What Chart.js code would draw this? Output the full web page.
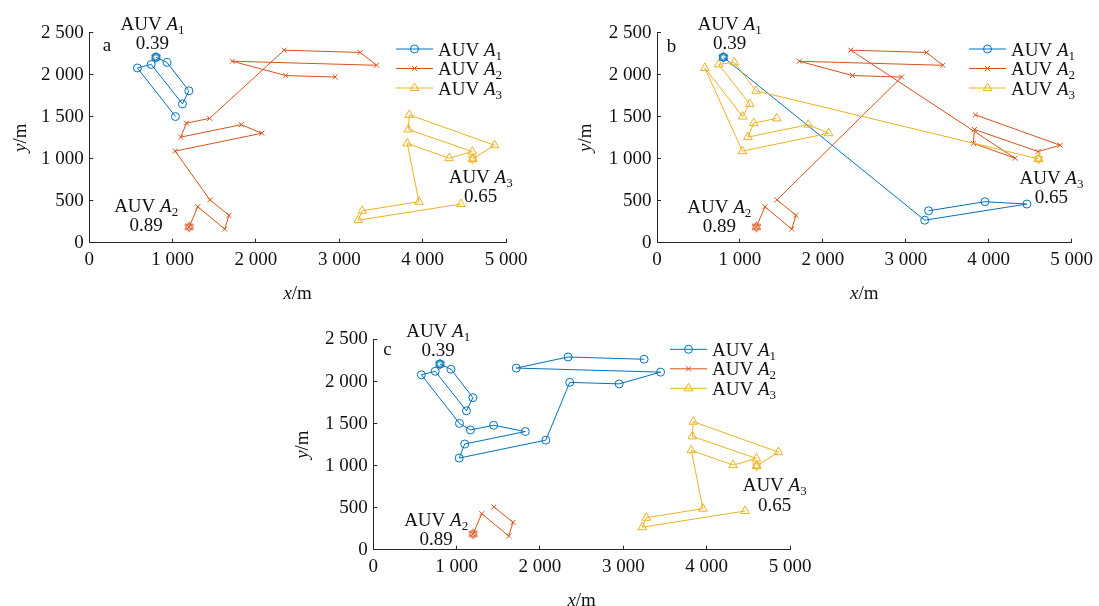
<!DOCTYPE html>
<html>
<head>
<meta charset="utf-8">
<script src="https://cdn.jsdelivr.net/npm/chart.js@4.4.1/dist/chart.umd.min.js"></script>
<style>
  body { margin: 0; background: #fff; width: 1099px; height: 606px; overflow: hidden; position: relative; }
  .panel { position: absolute; }
</style>
</head>
<body>
<div class="panel" style="left:0;top:0;width:560px;height:310px"><canvas id="chart-a"></canvas></div>
<div class="panel" style="left:549px;top:0;width:550px;height:310px"><canvas id="chart-b"></canvas></div>
<div class="panel" style="left:270px;top:300px;width:560px;height:306px"><canvas id="chart-c"></canvas></div>
<script>
// ---- data ----
const xTicks = [0, 1000, 2000, 3000, 4000, 5000];
const yTicks = [0, 500, 1000, 1500, 2000, 2500];
const names = ['AUV A1', 'AUV A2', 'AUV A3'];
const rates = ['0.39', '0.89', '0.65'];

// panel a
const aA1x = [800, 932, 1195, 1118, 743, 577, 1034];
const aA1y = [2208, 2146, 1808, 1652, 2122, 2080, 1502];
const aA2x = [1198, 1302, 1625, 1676, 1447, 1030, 2070, 1824, 1097, 1166, 1444, 2337, 3250, 3447, 1716, 2357, 2950];
const aA2y = [188, 428, 162, 325, 510, 1090, 1303, 1405, 1257, 1424, 1480, 2292, 2265, 2112, 2160, 1990, 1972];
const aA3x = [4600, 4862, 3840, 3828, 4596, 4318, 3815, 3955, 3275, 3228, 4460];
const aA3y = [998, 1160, 1522, 1348, 1085, 1006, 1182, 488, 380, 268, 460];

// panel b
const bA1x = [800, 3228, 4460, 3955, 3275];
const bA1y = [2208, 268, 460, 488, 380];
const bA2x = [1198, 1302, 1625, 1676, 1447, 2950, 2357, 1716, 3447, 3250, 2337, 4318, 3815, 3828, 4596, 4862, 3840];
const bA2y = [188, 428, 162, 325, 510, 1972, 1990, 2160, 2112, 2265, 2292, 1006, 1182, 1348, 1085, 1160, 1522];
const bA3x = [4600, 1195, 932, 743, 1118, 1034, 577, 1030, 2070, 1824, 1097, 1166, 1444];
const bA3y = [998, 1808, 2146, 2122, 1652, 1502, 2080, 1090, 1303, 1405, 1257, 1424, 1480];

// panel c
const cA1x = [800, 932, 1195, 1118, 743, 577, 1034, 1166, 1444, 1824, 1097, 1030, 2070, 2357, 2950, 3447, 1716, 2337, 3250];
const cA1y = [2208, 2146, 1808, 1652, 2122, 2080, 1502, 1424, 1480, 1405, 1257, 1090, 1303, 1990, 1972, 2112, 2160, 2292, 2265];
const cA2x = [1198, 1302, 1625, 1676, 1447];
const cA2y = [188, 428, 162, 325, 510];
const cA3x = [4600, 4862, 3840, 3828, 4596, 4318, 3815, 3955, 3275, 3228, 4460];
const cA3y = [998, 1160, 1522, 1348, 1085, 1006, 1182, 488, 380, 268, 460];

// ---- style ----
const FONT = '"Liberation Serif", "Times New Roman", serif';
const TEXT = '#111';
const AXIS = '#262626';
const colors = ['#0072BD', '#D95319', '#EDB120'];
const markers = ['circle', 'crossRot', 'triangle'];
const radii = [4, 3.5, 5];

function fmt(v) {
    if (v < 1000) return String(v);
    return Math.floor(v / 1000) + ' ' + String(v % 1000).padStart(3, '0');
}

function hexagram(color) {
    const c = document.createElement('canvas');
    c.width = c.height = 13;
    const g = c.getContext('2d');
    g.strokeStyle = color;
    g.lineWidth = 1;
    [-Math.PI / 2, Math.PI / 2].forEach(a0 => {
        g.beginPath();
        for (let k = 0; k < 3; k++) {
            const a = a0 + k * 2 * Math.PI / 3;
            const px = 6.5 + 5 * Math.cos(a), py = 6.5 + 5 * Math.sin(a);
            if (k === 0) g.moveTo(px, py); else g.lineTo(px, py);
        }
        g.closePath();
        g.stroke();
    });
    return c;
}
const hexes = colors.map(hexagram);

// "AUV A1" with italic A and subscript index
function auvParts(i) {
    return [
        { text: 'AUV ', font: `19px ${FONT}` },
        { text: 'A', font: `italic 19px ${FONT}` },
        { text: String(i + 1), font: `13px ${FONT}`, dy: 4 }
    ];
}

function drawRich(ctx, parts, x, y, align) {
    let w = 0;
    parts.forEach(p => { ctx.font = p.font; w += ctx.measureText(p.text).width; });
    let cx = align === 'center' ? x - w / 2 : x;
    ctx.textAlign = 'left';
    parts.forEach(p => {
        ctx.font = p.font;
        ctx.fillText(p.text, cx, y + (p.dy || 0));
        cx += ctx.measureText(p.text).width;
    });
}

function makePanel(id, cfg) {
    const canvas = document.getElementById(id);
    const box = canvas.parentNode;
    const W = box.clientWidth, H = box.clientHeight;
    const ox = box.offsetLeft, oy = box.offsetTop;
    const area = cfg.area; // page coords of plot box [left, top, right, bottom]
    const yW = 60, xH = 40;

    const lines = cfg.paths.map((p, i) => ({
        label: names[i],
        data: p[0].map((v, k) => ({ x: v, y: p[1][k] })),
        showLine: true,
        borderColor: colors[i],
        borderWidth: 1,
        backgroundColor: 'rgba(0,0,0,0)',
        pointStyle: markers[i],
        pointRadius: radii[i],
        pointBorderWidth: 1,
        pointBorderColor: colors[i],
        pointBackgroundColor: 'rgba(0,0,0,0)',
        order: 10 - i
    }));
    const starts = cfg.paths.map((p, i) => ({
        label: names[i] + ' start',
        data: [{ x: p[0][0], y: p[1][0] }],
        showLine: false,
        pointStyle: hexes[i],
        pointRadius: 6,
        order: 3 - i
    }));

    const deco = {
        id: 'deco' + id,
        afterDraw(chart) {
            const { ctx, chartArea: a, scales: { x, y } } = chart;
            ctx.save();
            // inward tick marks
            ctx.strokeStyle = AXIS;
            ctx.lineWidth = 1;
            ctx.beginPath();
            xTicks.forEach(v => {
                const px = Math.round(x.getPixelForValue(v) - 0.5) + 0.5;
                ctx.moveTo(px, a.bottom); ctx.lineTo(px, a.bottom - 4);
            });
            yTicks.forEach(v => {
                const py = Math.round(y.getPixelForValue(v) - 0.5) + 0.5;
                ctx.moveTo(a.left, py); ctx.lineTo(a.left + 4, py);
            });
            ctx.stroke();

            ctx.fillStyle = TEXT;
            ctx.textBaseline = 'alphabetic';
            // axis titles
            drawRich(ctx, [{ text: 'x', font: `italic 19px ${FONT}` }, { text: '/m', font: `19px ${FONT}` }],
                (a.left + a.right) / 2, a.bottom + 56.5, 'center');
            ctx.save();
            ctx.translate(cfg.yTitleX - ox + 6, (a.top + a.bottom) / 2);
            ctx.rotate(-Math.PI / 2);
            drawRich(ctx, [{ text: 'y', font: `italic 19px ${FONT}` }, { text: '/m', font: `19px ${FONT}` }], 0, 0, 'center');
            ctx.restore();

            // panel letter
            ctx.font = `19px ${FONT}`;
            ctx.textAlign = 'left';
            ctx.fillText(cfg.letter, a.left + cfg.letterAt[0], a.top + cfg.letterAt[1]);

            // legend
            const lx = a.left + cfg.legendAt[0];
            names.forEach((n, i) => {
                const ly = a.top + cfg.legendAt[1] + i * 19.5;
                ctx.strokeStyle = colors[i];
                ctx.lineWidth = 1;
                ctx.beginPath();
                ctx.moveTo(lx, ly); ctx.lineTo(lx + 37, ly);
                ctx.stroke();
                ctx.fillStyle = 'rgba(0,0,0,0)';
                Chart.helpers.drawPoint(ctx, { pointStyle: markers[i], radius: radii[i], borderWidth: 1, rotation: 0 }, lx + 18.5, ly);
                ctx.fillStyle = TEXT;
                drawRich(ctx, auvParts(i), lx + 42, ly + 6.5, 'left');
            });

            // start labels with rates
            cfg.paths.forEach((p, i) => {
                const sx = x.getPixelForValue(p[0][0]) + cfg.labels[i][0];
                const sy = y.getPixelForValue(p[1][0]) + cfg.labels[i][1];
                ctx.fillStyle = TEXT;
                drawRich(ctx, auvParts(i), sx, sy, 'center');
                ctx.font = `19px ${FONT}`;
                ctx.textAlign = 'center';
                ctx.fillText(rates[i], sx, sy + 19.5);
            });
            ctx.restore();
        }
    };

    const axisTicks = {
        font: { family: FONT, size: 19 },
        color: TEXT,
        maxRotation: 0,
        autoSkip: false,
        callback: v => fmt(v)
    };

    return new Chart(canvas, {
        type: 'scatter',
        data: { datasets: [...lines, ...starts] },
        options: {
            responsive: true,
            maintainAspectRatio: false,
            animation: false,
            events: [],
            layout: {
                padding: {
                    left: area[0] - ox - yW,
                    top: area[1] - oy,
                    right: W - (area[2] - ox),
                    bottom: H - (area[3] - oy) - xH
                }
            },
            scales: {
                x: {
                    type: 'linear', min: 0, max: 5000,
                    afterBuildTicks: s => { s.ticks = xTicks.map(v => ({ value: v })); },
                    afterFit: s => { s.height = xH; },
                    ticks: { ...axisTicks, padding: 6 },
                    grid: { display: false, drawTicks: false },
                    border: { color: AXIS, width: 1 }
                },
                y: {
                    type: 'linear', min: 0, max: 2500,
                    afterBuildTicks: s => { s.ticks = yTicks.map(v => ({ value: v })); },
                    afterFit: s => { s.width = yW; },
                    ticks: { ...axisTicks, padding: 5.5 },
                    grid: { display: false, drawTicks: false },
                    border: { color: AXIS, width: 1 }
                }
            },
            plugins: { legend: { display: false }, tooltip: { enabled: false } }
        },
        plugins: [deco]
    });
}

makePanel('chart-a', {
    area: [89.3, 32.7, 506, 242.7],
    paths: [[aA1x, aA1y], [aA2x, aA2y], [aA3x, aA3y]],
    letter: 'a', letterAt: [13.4, 18.5],
    legendAt: [306.7, 16.3],
    yTitleX: 20,
    labels: [[-3.5, -27.7], [-43, -15], [8, 23.7]]
});
makePanel('chart-b', {
    area: [657, 32.7, 1073.7, 242.7],
    paths: [[bA1x, bA1y], [bA2x, bA2y], [bA3x, bA3y]],
    letter: 'b', letterAt: [9.7, 19],
    legendAt: [312, 16.3],
    yTitleX: 585,
    labels: [[6.3, -27.7], [-37, -14.3], [13, 25]]
});
makePanel('chart-c', {
    area: [373.3, 339.5, 790, 549.7],
    paths: [[cA1x, cA1y], [cA2x, cA2y], [cA3x, cA3y]],
    letter: 'c', letterAt: [10, 15.5],
    legendAt: [296.7, 9.8],
    yTitleX: 302,
    labels: [[-1.8, -27.3], [-37, -8.3], [18, 25.7]]
});
</script>
</body>
</html>
